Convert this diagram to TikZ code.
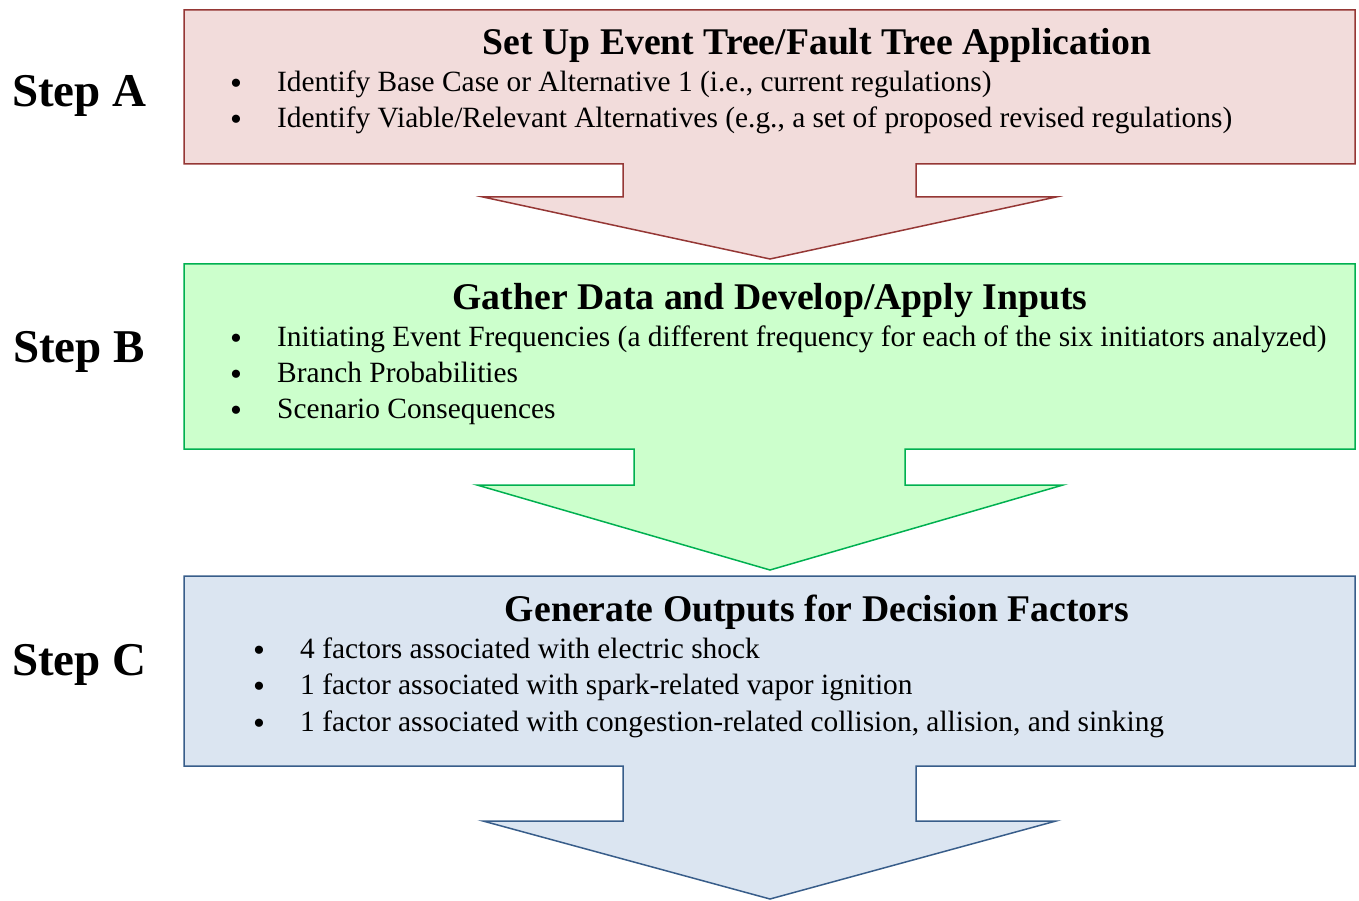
\documentclass[tikz,border=0pt]{standalone}
\usepackage{fontspec}
\setmainfont{Liberation Serif}
\usetikzlibrary{positioning}

\definecolor{redfill}{RGB}{242,220,219}
\definecolor{redline}{RGB}{149,55,53}
\definecolor{greenfill}{RGB}{204,255,204}
\definecolor{greenline}{RGB}{0,176,80}
\definecolor{bluefill}{RGB}{219,229,241}
\definecolor{blueline}{RGB}{56,93,138}

\tikzset{
  stepbox/.style={line width=1.5pt, line join=miter},
  steplabel/.style={anchor=base west, inner sep=0pt, font=\fontsize{47}{47}\selectfont\bfseries},
  boxtitle/.style={anchor=base, inner sep=0pt, font=\fontsize{37.7}{38}\selectfont\bfseries},
  itemtext/.style={anchor=base west, inner sep=0pt, font=\fontsize{29.4}{30}\selectfont},
  itemdot/.style={anchor=base, inner sep=0pt, text height=12pt, text depth=0pt, font=\fontsize{34}{34}\selectfont},
}

\begin{document}
\begin{tikzpicture}[x=1pt,y=1pt,yscale=-1,xscale=1]
        \useasboundingbox (0,0) rectangle (1359,901);
        % Step A box with arrow
        \draw [stepbox, draw=redline, fill=redfill] (184,10) -- (1355,10) -- (1355,164) -- (916,164) -- (916,197) -- (1056,197) -- (770,259) -- (483,197) -- (623,197) -- (623,164) -- (184,164) -- cycle ;
        % Step B box with arrow
        \draw [stepbox, draw=greenline, fill=greenfill] (184,264) -- (1355,264) -- (1355,449) -- (905,449) -- (905,485) -- (1063,485) -- (770,570) -- (477,485) -- (634,485) -- (634,449) -- (184,449) -- cycle ;
        % Step C box with arrow
        \draw [stepbox, draw=blueline, fill=bluefill] (184,576) -- (1355,576) -- (1355,766) -- (916,766) -- (916,821) -- (1056,821) -- (770,899) -- (483,821) -- (623,821) -- (623,766) -- (184,766) -- cycle ;

        \node (stepA) [steplabel] at (12,107) {Step A};
        \node (stepB) [steplabel] at (13,362) {Step B};
        \node (stepC) [steplabel] at (12,675) {Step C};

        \node (titleA) [boxtitle] at (817,55) {Set Up Event Tree/Fault Tree Application};
        \node (dotA1) [itemdot] at (236,95) {\textbullet};
        \node (itemA1) [itemtext] at (277,92) {Identify Base Case or Alternative 1 (i.e., current regulations)};
        \node (dotA2) [itemdot] at (236,131) {\textbullet};
        \node (itemA2) [itemtext] at (277,128) {Identify Viable/Relevant Alternatives (e.g., a set of proposed revised regulations)};

        \node (titleB) [boxtitle] at (770,309) {Gather Data and Develop/Apply Inputs};
        \node (dotB1) [itemdot] at (236,349) {\textbullet};
        \node (itemB1) [itemtext] at (277,346) {Initiating Event Frequencies (a different frequency for each of the six initiators analyzed)};
        \node (dotB2) [itemdot] at (236,385) {\textbullet};
        \node (itemB2) [itemtext] at (277,382) {Branch Probabilities};
        \node (dotB3) [itemdot] at (236,421) {\textbullet};
        \node (itemB3) [itemtext] at (277,418) {Scenario Consequences};

        \node (titleC) [boxtitle] at (817,621) {Generate Outputs for Decision Factors};
        \node (dotC1) [itemdot] at (259,661) {\textbullet};
        \node (itemC1) [itemtext] at (300,658) {4 factors associated with electric shock};
        \node (dotC2) [itemdot] at (259,697) {\textbullet};
        \node (itemC2) [itemtext] at (300,694) {1 factor associated with spark-related vapor ignition};
        \node (dotC3) [itemdot] at (259,734) {\textbullet};
        \node (itemC3) [itemtext] at (300,731) {1 factor associated with congestion-related collision, allision, and sinking};
\end{tikzpicture}
\end{document}
